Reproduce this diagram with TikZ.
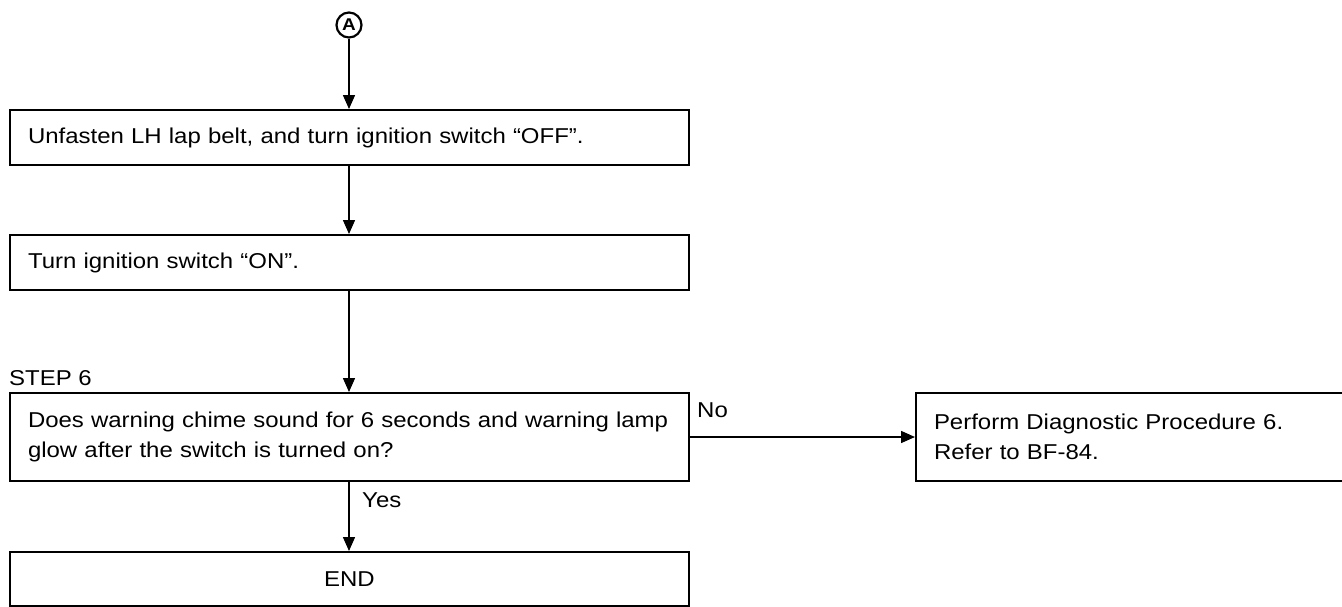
\documentclass[tikz,border=0pt]{standalone}
\usepackage{fontspec}
\setmainfont{Liberation Sans}[FakeStretch=1.115]
\usetikzlibrary{arrows.meta}
\tikzset{
  flowbox/.style={draw, line width=2pt, rectangle, anchor=north west, inner xsep=18pt, inner ysep=0pt, align=left, font=\fontsize{21.5}{30}\selectfont},
  flowarrow/.style={line width=1.5pt, -{Triangle[length=14pt,width=12pt]}},
  lbl/.style={anchor=base west, inner sep=0pt, font=\fontsize{21.5}{30}\selectfont},
}
\begin{document}
\begin{tikzpicture}[x=1pt,y=-1pt]
\useasboundingbox (0,0) rectangle (1342,606);
\node[draw, circle, line width=2.2pt, minimum size=25pt, inner sep=0pt, font=\bfseries\fontsize{17}{17}\selectfont] (A) at (349,25) {A};
\node[flowbox, minimum width=679pt, minimum height=55pt, text width=643pt] (b1) at (9,109) {Unfasten LH lap belt, and turn ignition switch “OFF”.};
\node[flowbox, minimum width=679pt, minimum height=55pt, text width=643pt] (b2) at (9,234) {Turn ignition switch “ON”.};
\node[lbl] (step) at (9,385) {STEP 6};
\node[flowbox, minimum width=679pt, minimum height=88pt, text width=643pt] (b3) at (9,392) {Does warning chime sound for 6 seconds and warning lamp\\glow after the switch is turned on?};
\node[flowbox, minimum width=445pt, minimum height=88pt, text width=409pt] (b4) at (915,392) {Perform Diagnostic Procedure 6.\\Refer to BF-84.};
\node[flowbox, minimum width=679pt, minimum height=54pt, text width=643pt, align=center] (b5) at (9,551) {END};
\node[lbl] (no) at (697,417) {No};
\node[lbl] (yes) at (362,507) {Yes};
\draw[flowarrow] (A) -- (b1.north -| A);
\draw[flowarrow] (b1.south -| A) -- (b2.north -| A);
\draw[flowarrow] (b2.south -| A) -- (b3.north -| A);
\draw[flowarrow] (b3.east) -- (b4.west |- b3.east);
\draw[flowarrow] (b3.south -| A) -- (b5.north -| A);
\end{tikzpicture}
\end{document}
